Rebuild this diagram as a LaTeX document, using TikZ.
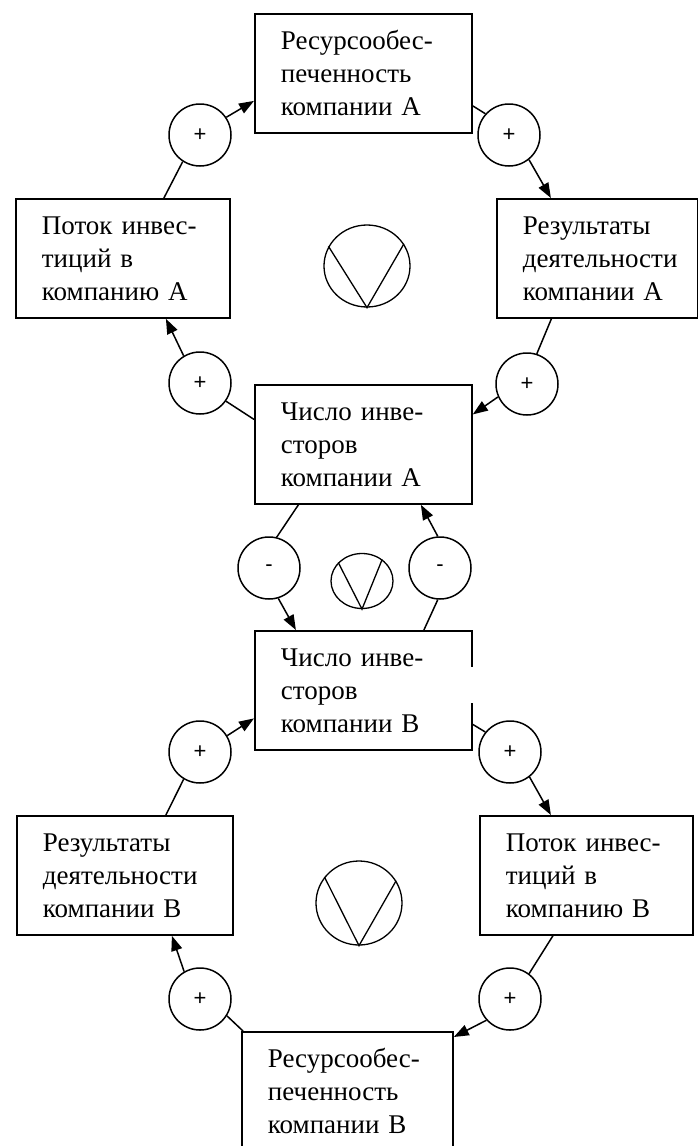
\documentclass[tikz,border=0pt]{standalone}
\usepackage{fontspec}
\setmainfont{Liberation Serif}
\setsansfont{Liberation Sans}
\usetikzlibrary{shapes.geometric,arrows.meta}
\begin{document}
\begin{tikzpicture}[x=1pt,y=-1pt,
 box/.style={draw, line width=1.8pt, rectangle, anchor=north west, minimum height=119pt, inner xsep=26pt, inner ysep=0pt, align=left, font=\fontsize{27}{33}\selectfont},
 sign/.style={circle, draw, line width=1.5pt, minimum size=62pt, inner sep=0pt, font=\sffamily\fontsize{22}{22}\selectfont},
 vnode/.style={ellipse, draw, line width=1.3pt, inner sep=0pt},
 conn/.style={line width=1.5pt},
 arr/.style={conn, -{Triangle[length=15pt,width=11pt]}},
 vline/.style={line width=1.3pt}]

\useasboundingbox (0,0) rectangle (698,1146);
\clip (0,0) rectangle (698,1146);

% boxes of loop A
\node[box, text width=165pt] (bA1) at (254,13) {Ресурсообес-\\печенность\\компании А};
\node[box, text width=162pt] (bAL) at (15,198) {Поток инвес-\\тиций в\\компанию А};
\node[box, text width=149pt] (bAR) at (496,198) {Результаты\\деятельности\\компании А};
\node[box, text width=165pt] (bAB) at (254,384) {Число инве-\\сторов\\компании А};
% boxes of loop B
\node[box, text width=165pt] (bB) at (254,630) {Число инве-\\сторов\\компании В};
\node[box, text width=164pt] (bBL) at (16,815) {Результаты\\деятельности\\компании В};
\node[box, text width=161pt] (bBR) at (479,815) {Поток инвес-\\тиций в\\компанию В};
\node[box, text width=159pt] (bBB) at (241,1031) {Ресурсообес-\\печенность\\компании В};

% sign circles
\node[sign] (cA1) at (200,135) {+};
\node[sign] (cA2) at (509,135) {+};
\node[sign] (cA3) at (527,384) {+};
\node[sign] (cA4) at (200,383) {+};
\node[sign] (cM1) at (269,568) {-};
\node[sign] (cM2) at (440,568) {-};
\node[sign] (cB1) at (200,752) {+};
\node[sign] (cB2) at (510,752) {+};
\node[sign] (cB3) at (510,999) {+};
\node[sign] (cB4) at (200,999) {+};

% loop type symbols
\node[vnode, minimum width=86pt, minimum height=82pt] (vA) at (367,266) {};
\draw[vline] (vA.153) -- (vA.south) -- (vA.31);
\node[vnode, minimum width=62pt, minimum height=55pt] (vM) at (362,581) {};
\draw[vline] (vM.142) -- (vM.south) -- (vM.47);
\node[vnode, minimum width=86pt, minimum height=84pt] (vB) at (359,903) {};
\draw[vline] (vB.143) -- (vB.south) -- (vB.31);

% loop A connectors
\draw[conn] ([xshift=41pt]bAL.north) -- (cA1.237);
\draw[arr] (cA1.34) -- ([yshift=-27.5pt]bA1.west);
\draw[conn] ([yshift=-32.5pt]bA1.east) -- (cA2.138);
\draw[arr] (cA2.309) -- ([xshift=-46.5pt]bAR.north);
\draw[conn] ([xshift=-46pt]bAR.south) -- (cA3.72);
\draw[arr] (cA3.204) -- ([yshift=30pt]bAB.east);
\draw[conn] ([yshift=25pt]bAB.west) -- (cA4.325);
\draw[arr] (cA4.121) -- ([xshift=43pt]bAL.south);

% middle connectors
\draw[conn] ([xshift=-65pt]bAB.south) -- (cM1.76);
\draw[arr] (cM1.287) -- ([xshift=-67.5pt]bB.north);
\draw[conn] ([xshift=60.5pt]bB.north) -- (cM2.266);
\draw[arr] (cM2.94) -- ([xshift=57.5pt]bAB.south);

% loop B connectors
\draw[conn] ([xshift=41pt]bBL.north) -- (cB1.239);
\draw[arr] (cB1.31) -- ([yshift=-28pt]bB.west);
\draw[conn] ([yshift=-34pt]bB.east) -- (cB2.141);
\draw[arr] (cB2.308) -- ([xshift=-35.5pt]bBR.north);
\draw[conn] ([xshift=-33.5pt]bBR.south) -- (cB3.53);
\draw[arr] (cB3.222) -- ([yshift=-6pt]bBB.north east);
\draw[conn] ([xshift=2pt]bBB.north west) -- (cB4.328);
\draw[arr] (cB4.120) -- ([xshift=47pt]bBL.south);

% gap in the right edge of box B
\draw[white, line width=3pt] ([yshift=-37pt]bB.north east) -- ([yshift=-73pt]bB.north east);
\end{tikzpicture}
\end{document}
